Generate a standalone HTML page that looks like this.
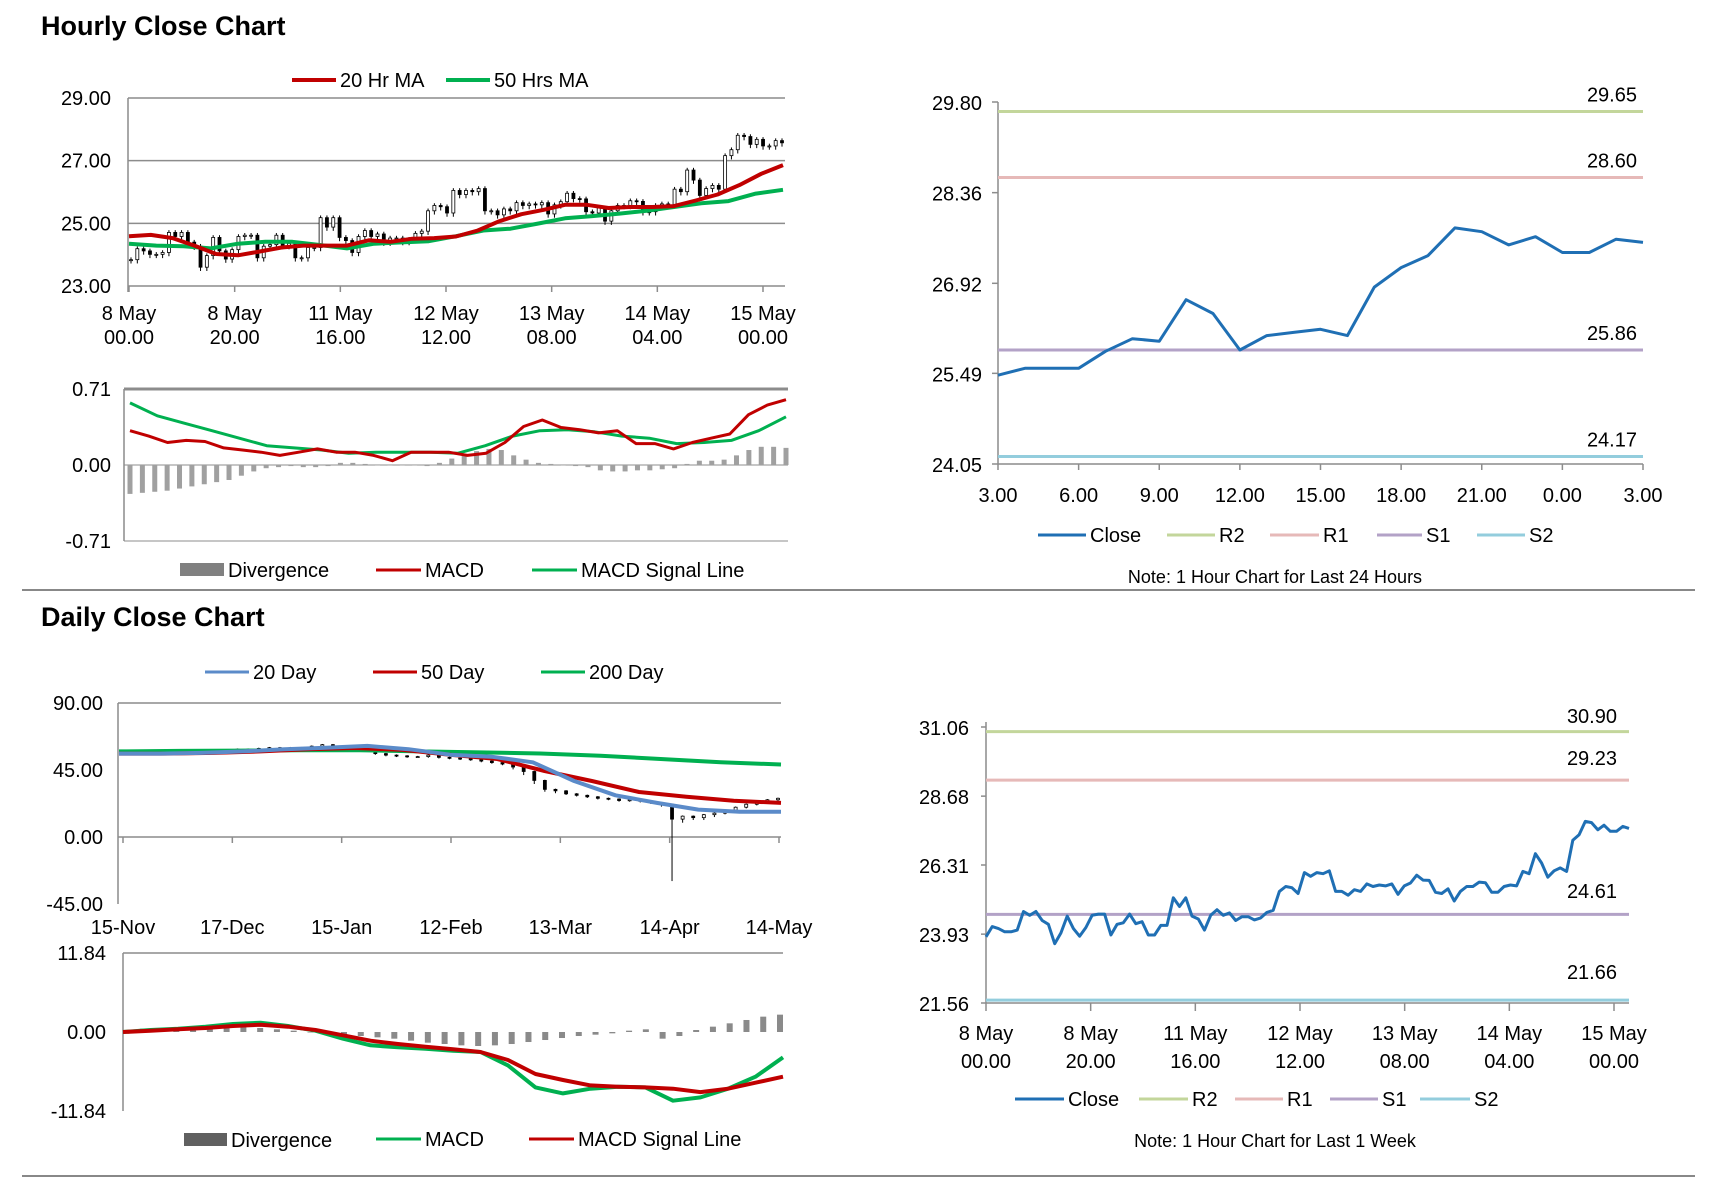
<!DOCTYPE html>
<html><head><meta charset="utf-8">
<style>
html,body{margin:0;padding:0;background:#fff;}
svg{display:block;font-family:"Liberation Sans Narrow","Liberation Sans",sans-serif;}
.t{font-size:20px;fill:#000;}
.title{font-family:"Liberation Sans",sans-serif;font-weight:bold;font-size:27px;}
</style></head>
<body>
<svg id="c" width="1711" height="1178" viewBox="0 0 1711 1178" xmlns="http://www.w3.org/2000/svg">
<text class="title" x="41" y="35">Hourly Close Chart</text>
<text class="title" x="41" y="626">Daily Close Chart</text>
<line x1="22" y1="590" x2="1695" y2="590" stroke="#888" stroke-width="2"/>
<line x1="22" y1="1176" x2="1695" y2="1176" stroke="#888" stroke-width="2"/>
</svg>
<script>
// ---------- data ----------
const hourlyXLabels = [["8 May","00.00"],["8 May","20.00"],["11 May","16.00"],["12 May","12.00"],["13 May","08.00"],["14 May","04.00"],["15 May","00.00"]];
const weekClose = [23.84,24.19,24.12,24.01,24.01,24.07,24.71,24.58,24.71,24.40,24.27,23.60,23.97,24.55,24.12,23.86,24.16,24.58,24.62,24.62,23.90,24.27,24.32,24.62,24.29,24.36,23.90,23.90,24.23,24.23,25.18,24.88,25.18,24.55,24.45,24.07,24.58,24.77,24.58,24.66,24.40,24.53,24.53,24.42,24.49,24.68,24.75,25.40,25.57,25.53,25.33,26.05,25.92,26.05,26.01,26.11,25.40,25.40,25.27,25.46,25.40,25.66,25.57,25.62,25.59,25.66,25.30,25.59,25.69,25.96,25.79,25.78,25.37,25.33,25.49,25.07,25.40,25.57,25.57,25.72,25.70,25.37,25.37,25.57,25.62,25.59,26.09,26.01,26.70,26.38,25.89,26.11,26.21,26.09,27.16,27.35,27.81,27.77,27.52,27.68,27.47,27.47,27.64,27.57];
const ma20 = [24.59,24.63,24.53,24.29,24.02,23.98,24.10,24.23,24.29,24.29,24.29,24.46,24.41,24.51,24.53,24.58,24.77,25.07,25.29,25.43,25.59,25.59,25.49,25.52,25.52,25.55,25.73,25.92,26.22,26.58,26.86];
const ma50 = [24.35,24.29,24.27,24.20,24.35,24.41,24.41,24.31,24.20,24.35,24.39,24.43,24.59,24.77,24.83,24.99,25.16,25.23,25.31,25.40,25.52,25.64,25.71,25.95,26.07];
const hourlyYTicks = [29,27,25,23];
const hMacd = [0.32,0.27,0.21,0.23,0.22,0.16,0.14,0.12,0.09,0.12,0.15,0.12,0.12,0.09,0.04,0.12,0.12,0.12,0.09,0.11,0.21,0.36,0.42,0.35,0.33,0.30,0.32,0.20,0.20,0.15,0.21,0.25,0.29,0.47,0.56,0.61];
const hSignal = [0.58,0.46,0.39,0.32,0.25,0.18,0.16,0.14,0.11,0.12,0.12,0.12,0.11,0.18,0.27,0.32,0.33,0.31,0.27,0.25,0.20,0.21,0.23,0.32,0.45];
const hDiv = [-0.27,-0.26,-0.25,-0.24,-0.22,-0.2,-0.18,-0.16,-0.14,-0.1,-0.06,-0.03,-0.02,-0.01,-0.02,-0.02,-0.01,0.02,0.02,0.01,0,0,0,0,-0.01,0.02,0.06,0.1,0.13,0.15,0.14,0.09,0.05,0.02,0.01,0,-0.01,-0.02,-0.05,-0.06,-0.06,-0.05,-0.05,-0.04,-0.03,0.01,0.04,0.04,0.05,0.09,0.14,0.17,0.17,0.16];
const macdYTicks = [0.71,0,-0.71];

const day24Close = [25.46,25.57,25.57,25.57,25.84,26.04,26.00,26.66,26.44,25.86,26.09,26.14,26.19,26.09,26.86,27.17,27.36,27.80,27.74,27.53,27.66,27.41,27.41,27.62,27.57];
const day24XLabels = ["3.00","6.00","9.00","12.00","15.00","18.00","21.00","0.00","3.00"];
const day24YTicks = [29.80,28.36,26.92,25.49,24.05];
const day24Levels = [29.65,28.60,25.86,24.17];

const dailyClose = [57,57,57.5,57,57.5,58,57.5,58,58.5,58,58.5,59,59,59.5,60,60,59.5,60,61,62,61,60,59,58,56,55,54.5,54,54,55,53.5,53,52.5,52,51,50,49,47,44,38,32,31,29,28,27,26,25.5,24.5,25,24,23,22,12,14,13,15,16,18,20,22,24,25,26];
const dailyWick = [1,1,1,1,1,1,1,1,1,1,1,1,1,1,1,1,1,2,2,2,1,1,1,1,1,1,1,1,1,1,1,1,1,1,1,1,1,2,3,3,2,2,1,1,1,1,1,1,1,1,1,2,52,3,2,2,2,1,1,1,1,1,1];
const sma20 = [56,56,56.5,57.5,59,60,61.2,59,55.3,53.9,50.2,37.6,28,22.9,18.4,17,17];
const sma50 = [56,56,56.5,57.5,59,59.8,58.5,55.3,52.4,44.3,37.6,30.2,27,24.3,22.9];
const sma200 = [57.5,57.8,58,58.2,58.3,57.5,56.8,56.1,54.6,52.4,50.2,48.7];
const dailyXLabels = ["15-Nov","17-Dec","15-Jan","12-Feb","13-Mar","14-Apr","14-May"];
const dailyYTicks = [90,45,0,-45];
const dMacd = [0,0.3,0.5,0.8,1.2,1.4,0.9,0.2,-1,-2,-2.3,-2.5,-2.8,-3,-5,-8.3,-9.2,-8.5,-8.2,-8.3,-10.3,-9.8,-8.5,-6.7,-3.8];
const dSignal = [0,0.2,0.4,0.6,0.9,1.1,0.8,0.3,-0.5,-1.3,-1.8,-2.2,-2.6,-3,-4.2,-6.3,-7.2,-8,-8.2,-8.3,-8.5,-9,-8.5,-7.6,-6.7];
const dDiv = [0.3,0.5,0.6,0.6,0.7,0.7,0.8,0.8,0.6,0.4,0.2,0,-0.2,-0.4,-0.6,-0.8,-1,-1.3,-1.6,-1.8,-2,-2.1,-2,-1.8,-1.5,-1.2,-0.9,-0.6,-0.4,-0.2,0.2,0.4,-1.0,-0.6,0.3,0.8,1.3,1.8,2.3,2.6];
const dMacdYTicks = [11.84,0,-11.84];
const weekYTicks = [31.06,28.68,26.31,23.93,21.56];
const weekLevels = [30.90,29.23,24.61,21.66];

// ---------- helpers ----------
const NS="http://www.w3.org/2000/svg";
const svg=document.getElementById('c');
function el(tag,attrs,parent){const e=document.createElementNS(NS,tag);for(const k in attrs)e.setAttribute(k,attrs[k]);(parent||svg).appendChild(e);return e;}
function lin(d0,d1,r0,r1){return v=>r0+(v-d0)*(r1-r0)/(d1-d0);}
function idxX(n,x0,x1){return i=>x0+(n<=1?0:i*(x1-x0)/(n-1));}
function txt(x,y,s,anchor,name,size){const t=el('text',{x:x,y:y,'text-anchor':anchor||'start',class:'t'});if(size)t.style.fontSize=size+'px';t.textContent=s;


return t;}
function poly(vals,xf,yf,color,w,name){const pts=vals.map((v,i)=>xf(i).toFixed(1)+','+yf(v).toFixed(1)).join(' ');const p=el('polyline',{points:pts,fill:'none',stroke:color,'stroke-width':w,'stroke-linejoin':'round'});


return p;}
function hline(x0,x1,y,color,w,name){const l=el('line',{x1:x0,x2:x1,y1:y,y2:y,stroke:color,'stroke-width':w});


return l;}
function vline(x,y0,y1,color,w,name){const l=el('line',{x1:x,x2:x,y1:y0,y2:y1,stroke:color,'stroke-width':w});


return l;}
function legendLine(x0,x1,y,color,label,name,w){hline(x0,x1,y,color,w||4,name+'-swatch');const t=txt(x1+4,y+7,label,'start',name);return t;}
function candles(closes,wicks,xf,yf,bw,wickUnit,name){
  for(let i=0;i<closes.length;i++){
    const c=closes[i],o=i>0?closes[i-1]:closes[i];
    const w=wicks?wicks[i]*wickUnit:wickUnit;
    const hi=Math.max(o,c)+wickUnit*0.6,lo=Math.min(o,c)-w;
    const x=xf(i);
    const l=el('line',{x1:x,x2:x,y1:yf(hi),y2:yf(lo),stroke:'#000','stroke-width':1});
    
    
    const top=yf(Math.max(o,c)),bot=yf(Math.min(o,c));
    const r=el('rect',{x:x-bw/2,y:top,width:bw,height:Math.max(1,bot-top),fill:c>=o?'#fff':'#000',stroke:'#000','stroke-width':0.8});
    
    
  }
}
function bars(vals,xf,yf,color,w,name){vals.forEach((v,i)=>{const y0=yf(0),y1=yf(v);const r=el('rect',{x:xf(i)-w/2,y:Math.min(y0,y1),width:w,height:Math.max(0.5,Math.abs(y1-y0)),fill:color});

});}

// ---------- Chart A: hourly candles ----------
(function(){
  const x0=128,x1=785,y=lin(23,29,286,98);
  hourlyYTicks.forEach(v=>{hline(x0,x1,y(v),'#8c8c8c',1.5,'gridline');txt(111,y(v)+7,v.toFixed(2),'end','y-tick-label');});
  vline(x0,98,292,'#8c8c8c',1.5,'y-axis');
  const tx=idxX(hourlyXLabels.length,129,763);
  hourlyXLabels.forEach((l,i)=>{vline(tx(i),286,292,'#8c8c8c',1.5,'x-tick');txt(tx(i),320,l[0],'middle','x-tick-label');txt(tx(i),344,l[1],'middle','x-tick-label');});
  candles(weekClose,null,idxX(weekClose.length,131,782),y,3,0.12,'hourly-candle');
  poly(ma50,idxX(ma50.length,129,783),y,'#00b050',4,'ma50-line');
  poly(ma20,idxX(ma20.length,129,783),y,'#c00000',4,'ma20-line');
  legendLine(292,336,80,'#c00000','20 Hr MA','legend-20hr-ma');
  legendLine(446,490,80,'#00b050','50 Hrs MA','legend-50hrs-ma');
})();
// ---------- Chart A2: hourly MACD ----------
(function(){
  const x0=124,x1=788,y=lin(-0.71,0.71,541,389);
  hline(x0,x1,389,'#8c8c8c',3,'macd-top-gridline');
  hline(x0,x1,541,'#8c8c8c',1,'macd-bottom-axis');
  vline(x0,389,541,'#8c8c8c',1.5,'macd-y-axis');
  macdYTicks.forEach(v=>txt(111,y(v)+7,v.toFixed(2),'end','macd-y-tick-label'));
  hline(x0,x1,y(0),'#8c8c8c',1,'macd-zero-line');
  bars(hDiv,idxX(hDiv.length,130,786),y,'#a0a0a0',5,'divergence-bar');
  poly(hSignal,idxX(hSignal.length,130,786),y,'#00b050',3,'macd-signal-line');
  poly(hMacd,idxX(hMacd.length,130,786),y,'#c00000',3,'macd-line');
  const r=el('rect',{x:180,y:563,width:44,height:13,fill:'#808080'});
  
  
  txt(228,577,'Divergence','start','legend-divergence');
  legendLine(376,421,570,'#c00000','MACD','legend-macd',3);
  legendLine(532,577,570,'#00b050','MACD Signal Line','legend-macd-signal',3);
})();
// ---------- Chart B: 24h close ----------
(function(){
  const x0=998,x1=1643,y=lin(24.05,29.80,464,102);
  vline(x0,102,464,'#8c8c8c',1.5,'y-axis-24h');
  hline(x0,x1,464,'#8c8c8c',1.5,'x-axis-24h');
  day24YTicks.forEach(v=>{hline(x0-6,x0,y(v),'#8c8c8c',1.5,'y-tick');txt(982,y(v)+8,v.toFixed(2),'end','y-tick-label-24h');});
  const tx=idxX(day24XLabels.length,x0,x1);
  day24XLabels.forEach((l,i)=>{vline(tx(i),464,470,'#8c8c8c',1.5,'x-tick');txt(tx(i),502,l,'middle','x-tick-label-24h');});
  const cols=['#c3d69b','#e6b9b8','#b3a2c7','#93cddd'],names=['r2','r1','s1','s2'];
  day24Levels.forEach((v,i)=>{hline(x0,x1,y(v),cols[i],3,'level-'+names[i]);txt(1637,y(v)-10,v.toFixed(2),'end','level-label-'+names[i]);});
  poly(day24Close,idxX(day24Close.length,x0,x1),y,'#1f6fb4',3,'close-line-24h');
  legendLine(1038,1086,535,'#1f6fb4','Close','legend-close',3);
  legendLine(1167,1215,535,'#c3d69b','R2','legend-r2',3);
  legendLine(1270,1319,535,'#e6b9b8','R1','legend-r1',3);
  legendLine(1377,1422,535,'#b3a2c7','S1','legend-s1',3);
  legendLine(1477,1525,535,'#93cddd','S2','legend-s2',3);
  txt(1275,583,'Note: 1 Hour Chart for Last 24 Hours','middle','note-24h',18);
})();
// ---------- Chart C: daily ----------
(function(){
  const x0=118,x1=781,y=lin(-45,90,904,703);
  vline(x0,703,904,'#8c8c8c',1.5,'daily-y-axis');
  hline(x0,x1,y(0),'#8c8c8c',1.5,'daily-x-axis');
  hline(x0,x1,703,'#8c8c8c',1.5,'daily-top-line');
  dailyYTicks.forEach(v=>txt(103,y(v)+7,v.toFixed(2),'end','daily-y-tick-label'));
  const tx=idxX(dailyXLabels.length,123,779);
  dailyXLabels.forEach((l,i)=>{vline(tx(i),y(0),y(0)+6,'#8c8c8c',1.5,'x-tick');txt(tx(i),934,l,'middle','daily-x-tick-label');});
  candles(dailyClose,dailyWick,idxX(dailyClose.length,121,778),y,3,0.8,'daily-candle');
  poly(sma200,idxX(sma200.length,119,781),y,'#00b050',4,'sma200-line');
  poly(sma50,idxX(sma50.length,119,781),y,'#c00000',4,'sma50-line');
  poly(sma20,idxX(sma20.length,119,781),y,'#5b8bc9',4,'sma20-line');
  legendLine(205,249,672,'#5b8bc9','20 Day','legend-20-day',3);
  legendLine(373,417,672,'#c00000','50 Day','legend-50-day',3);
  legendLine(541,585,672,'#00b050','200 Day','legend-200-day',3);
})();
// ---------- Chart C2: daily MACD ----------
(function(){
  const x0=123,x1=783,y=lin(-11.84,11.84,1111,953);
  vline(x0,953,1111,'#8c8c8c',1.5,'dmacd-y-axis');
  hline(x0,x1,953,'#8c8c8c',1.5,'dmacd-top-line');
  dMacdYTicks.forEach(v=>txt(106,y(v)+7,v.toFixed(2),'end','dmacd-y-tick-label'));
  bars(dDiv,idxX(dDiv.length,126,780),y,'#8a8a8a',6,'daily-divergence-bar');
  poly(dMacd,idxX(dMacd.length,123,783),y,'#00b050',4,'daily-macd-line');
  poly(dSignal,idxX(dSignal.length,123,783),y,'#c00000',4,'daily-signal-line');
  const r=el('rect',{x:184,y:1133,width:43,height:13,fill:'#606060'});
  
  
  txt(231,1147,'Divergence','start','daily-legend-divergence');
  legendLine(376,421,1139,'#00b050','MACD','daily-legend-macd',3);
  legendLine(529,574,1139,'#c00000','MACD Signal Line','daily-legend-signal',3);
})();
// ---------- Chart D: weekly hourly close ----------
(function(){
  const x0=986,x1=1629,y=lin(21.56,31.06,1003,727);
  vline(x0,722,1003,'#8c8c8c',1.5,'week-y-axis');
  hline(x0,x1,1003,'#8c8c8c',1.5,'week-x-axis');
  weekYTicks.forEach(v=>{hline(x0-5,x0,y(v),'#8c8c8c',1.5,'y-tick');txt(969,y(v)+8,v.toFixed(2),'end','week-y-tick-label');});
  const tx=idxX(hourlyXLabels.length,986,1614);
  hourlyXLabels.forEach((l,i)=>{vline(tx(i),1003,1011,'#8c8c8c',1.5,'x-tick');txt(tx(i),1040,l[0],'middle','week-x-tick-label');txt(tx(i),1068,l[1],'middle','week-x-tick-label');});
  const cols=['#c3d69b','#e6b9b8','#b3a2c7','#93cddd'],names=['r2','r1','s1','s2'];
  weekLevels.forEach((v,i)=>{hline(x0,x1,y(v),cols[i],3,'week-level-'+names[i]);});
  const ly=[723,765,898,979];
  weekLevels.forEach((v,i)=>txt(1617,ly[i],v.toFixed(2),'end','week-level-label-'+names[i]));
  poly(weekClose,idxX(weekClose.length,x0,x1),y,'#1f6fb4',3,'week-close-line');
  legendLine(1015,1064,1099,'#1f6fb4','Close','week-legend-close',3);
  legendLine(1139,1188,1099,'#c3d69b','R2','week-legend-r2',3);
  legendLine(1235,1283,1099,'#e6b9b8','R1','week-legend-r1',3);
  legendLine(1330,1378,1099,'#b3a2c7','S1','week-legend-s1',3);
  legendLine(1420,1470,1099,'#93cddd','S2','week-legend-s2',3);
  txt(1275,1147,'Note: 1 Hour Chart for Last 1 Week','middle','note-week',18);
})();
</script>
</body></html>
